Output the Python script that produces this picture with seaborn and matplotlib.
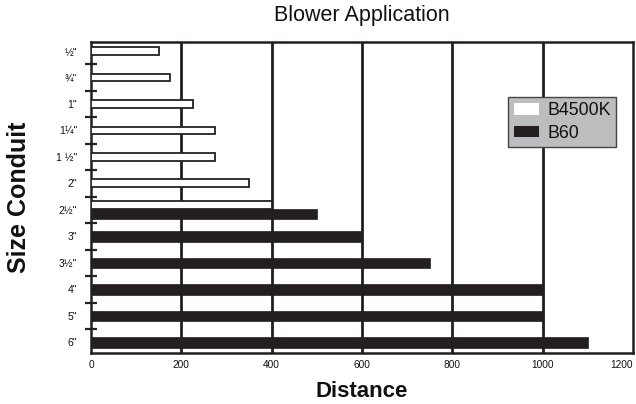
import pandas as pd
import matplotlib.pyplot as plt
import seaborn as sns
from matplotlib.patches import Patch

# conduit sizes, top to bottom
sizes = ['½"', '¾"', '1"', '1¼"', '1 ½"', '2"', '2½"', '3"', '3½"', '4"', '5"', '6"']

# B4500K blower (white bars)
b4500k_sizes = ['½"', '¾"', '1"', '1¼"', '1 ½"', '2"', '2½"']
b4500k_dist = [150, 175, 225, 275, 275, 350, 400]

# B60 blower (black bars)
b60_sizes = ['2½"', '3"', '3½"', '4"', '5"', '6"']
b60_dist = [500, 600, 750, 1000, 1000, 1100]

x_ticks = [0, 200, 400, 600, 800, 1000, 1200]

df_white = pd.DataFrame({'size': b4500k_sizes, 'distance': b4500k_dist})
df_black = pd.DataFrame({'size': b60_sizes, 'distance': b60_dist})

sns.set_style('white', {'text.color': '#111111', 'axes.labelcolor': '#111111',
                        'xtick.color': '#111111', 'ytick.color': '#111111'})
plt.rcParams['font.family'] = ['Liberation Sans', 'DejaVu Sans']

fig = plt.figure(figsize=(6.36, 4.04), dpi=100)
ax = fig.add_axes([91 / 636, 51 / 404, 542 / 636, 311 / 404])

sns.barplot(data=df_white, x='distance', y='size', order=sizes, orient='h',
            color='white', edgecolor='#222222', linewidth=1.3, width=0.3,
            saturation=1, ax=ax, zorder=3)
n_white = len(ax.patches)
sns.barplot(data=df_black, x='distance', y='size', order=sizes, orient='h',
            color='#231f20', edgecolor='#231f20', linewidth=0.5, width=0.4,
            saturation=1, ax=ax, zorder=3)

# at 2½" both blowers share the row: white sits above, black below
shared = sizes.index('2½"')
for i, p in enumerate(ax.patches):
    yc = p.get_y() + p.get_height() / 2
    if abs(yc - shared) < 0.3:
        if i < n_white:
            p.set_y(p.get_y() - 0.2)
        else:
            p.set_y(p.get_y() + 0.15)

ax.set_xlim(0, 1200)
ax.set_ylim(11.4, -0.34)
ax.set_xticks(x_ticks)
ax.set_xticklabels([str(t) for t in x_ticks], fontsize=7.3)
ax.get_xticklabels()[-1].set_horizontalalignment('right')
ax.set_yticks(range(len(sizes)))
ax.set_yticklabels(sizes, fontsize=7.5)
ax.set_yticks([i + 0.5 for i in range(len(sizes) - 1)], minor=True)
ax.tick_params(axis='y', which='major', left=True, length=0, pad=10)
ax.tick_params(axis='y', which='minor', left=True, direction='inout', length=9,
               width=1.6, color='#222222')
ax.tick_params(axis='x', length=0, pad=5)

for v in x_ticks[1:-1]:
    ax.axvline(v, color='#231f20', lw=2, zorder=1)

for s in ax.spines.values():
    s.set_visible(True)
    s.set_color('#231f20')
    s.set_linewidth(1.8)

ax.set_title('Blower Application', fontsize=15.5, pad=15)
ax.set_xlabel('Distance', fontsize=16, fontweight='bold', labelpad=8)
ax.set_ylabel('Size Conduit', fontsize=18, fontweight='bold', labelpad=18)

handles = [Patch(facecolor='white', edgecolor='none', label='B4500K'),
           Patch(facecolor='#231f20', edgecolor='none', label='B60')]
leg = ax.legend(handles=handles, loc='upper left', bbox_to_anchor=(0.77, 0.823),
                fontsize=12.8, frameon=True, fancybox=False, framealpha=1,
                facecolor='#bcbdbf', edgecolor='#444444', borderpad=0.3,
                labelspacing=0.3, handlelength=1.4, handleheight=0.6,
                handletextpad=0.5, borderaxespad=0)
leg.get_frame().set_linewidth(1)

fig.savefig('out.png', dpi=100)
